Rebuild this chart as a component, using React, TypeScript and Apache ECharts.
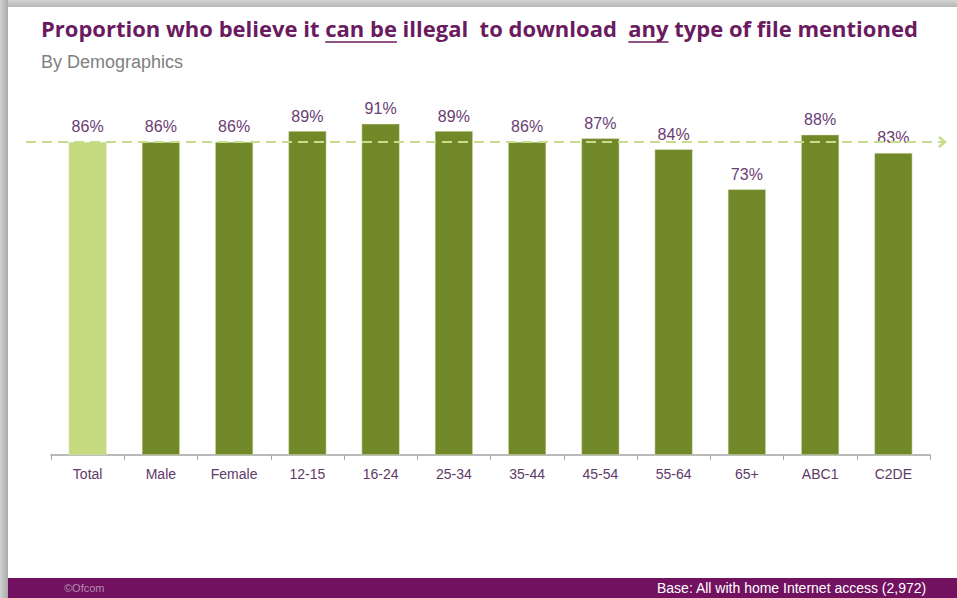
import React, { useEffect, useRef } from "react";
import * as echarts from "echarts";

const categories = ["Total", "Male", "Female", "12-15", "16-24", "25-34", "35-44", "45-54", "55-64", "65+", "ABC1", "C2DE"];
const values = [86, 86, 86, 89, 91, 89, 86, 87, 84, 73, 88, 83];
const referenceValue = values[0];

const titleSegments = ["Proportion who believe it ", "can be", " illegal  to download  ", "any", " type of file mentioned"];
const underlined = [false, true, false, true, false];
const subtitle = "By Demographics";
const footerLeft = "\u00A9Ofcom";
const footerRight = "Base: All with home Internet access (2,972)";

const W = 957;
const H = 598;

function measure(text: string, font: string): number {
  const c = document.createElement("canvas");
  const ctx = c.getContext("2d")!;
  ctx.font = font;
  return ctx.measureText(text).width;
}

export default function App() {
  const ref = useRef<HTMLDivElement>(null);
  useEffect(() => {
    if (!ref.current) return;
    const chart = echarts.init(ref.current, undefined, { renderer: "svg", width: W, height: H });

    const titleFamily = "'Open Sans', 'Noto Sans', sans-serif";
    const full = titleSegments.join("");
    const w100 = measure(full, `bold 100px ${titleFamily}`);
    const titleSize = Math.min(22, (877 / w100) * 100);
    const titleFont = `bold ${titleSize}px ${titleFamily}`;
    const titleGraphics: any[] = [];
    let x = 41;
    titleSegments.forEach((seg, i) => {
      const lead = seg.length - seg.trimStart().length;
      const leadW = lead ? measure(seg.slice(0, lead), titleFont) : 0;
      const trimmed = seg.trim();
      const tw = measure(trimmed, titleFont);
      const sx = x + leadW;
      titleGraphics.push({
        type: "text",
        id: "title" + i,
        left: sx,
        top: 17,
        style: { text: trimmed, font: titleFont, fill: "#6a1b5f" },
        z: 20,
      });
      if (underlined[i]) {
        titleGraphics.push({
          type: "line",
          id: "ul" + i,
          shape: { x1: sx, y1: 42, x2: sx + tw, y2: 42 },
          style: { stroke: "#6a1b5f", lineWidth: 1.5 },
          z: 20,
        });
      }
      x += measure(seg, titleFont);
    });

    const subFamily = "'Liberation Sans', Arial, sans-serif";
    const frFamily = "'Liberation Sans', Arial, sans-serif";
    const fr100 = measure(footerRight, `100px ${frFamily}`);
    const frSize = Math.min(14, (302 / fr100) * 100);

    const baseGraphics: any[] = [
      { type: "rect", id: "footer", shape: { x: 8, y: 578, width: W - 8, height: 20 }, style: { fill: "#71115f" }, z: -8 },
      {
        type: "text",
        id: "footerLeft",
        left: 64,
        top: 582,
        style: { text: footerLeft, font: `11px ${frFamily}`, fill: "#b58aae" },
        z: 20,
      },
      {
        type: "text",
        id: "footerRight",
        right: 30,
        top: 581,
        style: { text: footerRight, font: `${frSize}px ${frFamily}`, fill: "#ffffff" },
        z: 20,
      },
      {
        type: "text",
        id: "subtitle",
        left: 41,
        top: 53,
        style: { text: subtitle, font: `18px ${subFamily}`, fill: "#808080" },
        z: 20,
      },
      ...titleGraphics,
    ];

    const barData = values.map((v, i) =>
      i === 0 ? { value: v, itemStyle: { color: "#c5d97e" } } : { value: v }
    );

    chart.setOption({
      animation: false,
      grid: { left: 51, right: 27, top: 91, bottom: 143, containLabel: false },
      xAxis: {
        type: "category",
        data: categories,
        axisLine: { lineStyle: { color: "#a3a3a3", width: 1.5 } },
        axisTick: { show: true, length: 5, alignWithLabel: false, interval: 0, lineStyle: { color: "#a3a3a3" } },
        axisLabel: {
          interval: 0,
          margin: 12,
          color: "#5e3a68",
          fontSize: 14,
          fontFamily: "'Liberation Sans', Arial, sans-serif",
        },
      },
      yAxis: { type: "value", min: 0, max: 100, show: false, splitLine: { show: false } },
      series: [
        {
          type: "bar",
          data: barData,
          barWidth: 38,
          itemStyle: { color: "#72892a", borderColor: "#e6edd0", borderWidth: 0.5 },
          label: {
            show: true,
            position: "top",
            distance: 7,
            formatter: "{c}%",
            color: "#6a3d73",
            fontSize: 16,
            fontFamily: "'Liberation Sans', Arial, sans-serif",
          },
        },
      ],
      graphic: baseGraphics,
    });

    const yRef = chart.convertToPixel({ yAxisIndex: 0 }, referenceValue) as number;
    chart.setOption({
      graphic: [
        ...baseGraphics,
        {
          type: "line",
          id: "refLine",
          shape: { x1: 26, y1: yRef, x2: 944, y2: yRef },
          style: { stroke: "#c7dd8c", lineWidth: 2, lineDash: [10, 6] },
          z: 10,
        },
        {
          type: "polyline",
          id: "refArrow",
          shape: { points: [[939, yRef - 5], [945, yRef], [939, yRef + 5]] },
          style: { stroke: "#c7dd8c", lineWidth: 2.5, fill: "none" },
          z: 10,
        },
      ],
    });

    return () => chart.dispose();
  }, []);
  return (
    <div style={{ position: "absolute", left: 0, top: 0, width: W, height: H, background: "#ffffff", overflow: "hidden" }}>
      <div
        style={{
          position: "absolute",
          left: 0,
          top: 0,
          width: W,
          height: 7,
          background: "linear-gradient(to bottom, #d4d4d4, #b6b6b6)",
        }}
      />
      <div
        style={{
          position: "absolute",
          left: 0,
          top: 0,
          width: 8,
          height: H,
          background: "linear-gradient(to right, #d2d2d2, #a9a9a9)",
        }}
      />
      <div ref={ref} style={{ position: "absolute", left: 0, top: 0, width: W, height: H }} />
    </div>
  );
}
